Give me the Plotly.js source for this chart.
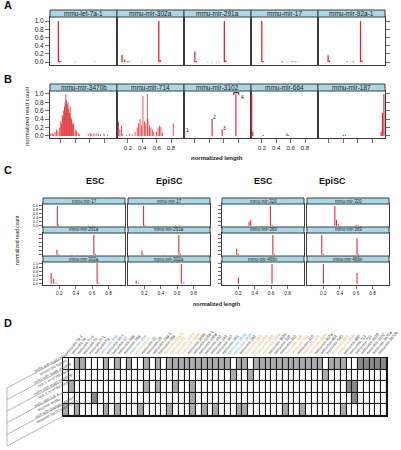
<!DOCTYPE html>
<html><head><meta charset="utf-8">
<script src="https://cdn.plot.ly/plotly-3.0.1.min.js"></script>
<style>html,body{margin:0;padding:0;background:#fff;}#chart{width:401px;height:450px;}</style>
</head><body><div id="chart"></div>
<script>
// ---------------- DATA ----------------
// Panel A
const panelA_names = ["mmu-let-7a-1","mmu-mir-302a","mmu-mir-291a","mmu-mir-17","mmu-mir-92a-1"];
const a_let7a1_len = [0.06,0.166,0.185,0.20,0.40,0.68];
const a_let7a1_cnt = [0.01,1.0,0.03,0.02,0.01,0.01];
const a_mir302a_len = [0.12,0.155,0.19,0.22,0.40,0.63,0.65];
const a_mir302a_cnt = [0.18,0.06,0.02,0.02,0.01,1.0,0.05];
const a_mir291a_len = [0.20,0.22,0.38,0.44,0.50,0.54,0.61,0.63];
const a_mir291a_cnt = [0.26,0.03,0.01,0.01,0.01,0.01,1.0,0.04];
const a_mir17_len = [0.20,0.22,0.48,0.55,0.62,0.66,0.69];
const a_mir17_cnt = [1.0,0.03,0.02,0.01,0.02,0.02,0.01];
const a_mir92a1_len = [0.19,0.21,0.45,0.50,0.54,0.64,0.66];
const a_mir92a1_cnt = [0.17,0.04,0.02,0.01,0.02,1.0,0.04];

// Panel B
const panelB_names = ["mmu-mir-3470b","mmu-mir-714","mmu-mir-3102","mmu-mir-664","mmu-mir-187"];
const b_mir3470b_len = [0.06,0.08,0.10,0.12,0.14,0.16,0.18,0.20,0.21,0.22,0.23,0.24,0.25,0.26,0.27,0.28,0.29,0.30,0.31,0.32,0.33,0.34,0.35,0.36,0.37,0.38,0.40,0.42,0.44,0.46,0.58,0.61,0.63,0.66,0.69,0.72,0.75,0.80,0.85];
const b_mir3470b_cnt = [0.05,0.07,0.04,0.10,0.15,0.12,0.20,0.35,0.30,0.50,0.45,0.60,0.70,0.80,1.00,0.85,0.75,0.80,0.65,0.55,0.70,0.45,0.40,0.30,0.25,0.30,0.15,0.12,0.08,0.04,0.05,0.07,0.04,0.06,0.07,0.05,0.04,0.06,0.03];
const b_mir714_len = [0.05,0.07,0.09,0.11,0.13,0.18,0.22,0.26,0.30,0.33,0.35,0.37,0.39,0.41,0.43,0.45,0.47,0.48,0.50,0.52,0.54,0.56,0.60,0.62,0.64,0.66,0.68,0.83];
const b_mir714_cnt = [0.22,0.35,0.15,0.25,0.05,0.03,0.05,0.04,0.10,0.20,0.30,0.40,0.25,0.95,0.35,0.30,1.00,0.40,0.25,0.20,0.15,0.10,0.10,0.20,0.25,0.22,0.08,0.30];
const b_mir3102_len = [0.06,0.44,0.58,0.77];
const b_mir3102_cnt = [0.07,0.40,0.15,1.0];
const b_mir3102_peakLabels = ["1","2","3","4"];
const b_mir3102_peakLen = [0.10,0.47,0.61,0.86];
const b_mir3102_peakCnt = [0.14,0.45,0.20,0.93];
const b_mir3102_bracketLen = [0.74,0.74,0.81,0.81];
const b_mir3102_bracketCnt = [0.98,1.03,1.03,0.98];
const b_mir664_len = [0.06,0.075,0.22,0.55,0.57];
const b_mir664_cnt = [1.0,0.10,0.02,0.06,0.02];
const b_mir187_len = [0.40,0.43,0.925,0.945,0.965];
const b_mir187_cnt = [0.03,0.02,0.10,0.55,1.0];

// Panel C
const c_rowsLeft = ["mmu-mir-17","mmu-mir-291a","mmu-mir-302a"];
const c_rowsRight = ["mmu-mir-320","mmu-mir-369","mmu-mir-466n"];
const c_conditions = ["ESC","EpiSC"];
const c_esc_mir17_len = [0.175,0.19,0.55,0.60,0.63];
const c_esc_mir17_cnt = [1.0,0.05,0.03,0.03,0.02];
const c_epi_mir17_len = [0.19,0.21,0.58,0.62,0.65];
const c_epi_mir17_cnt = [1.0,0.05,0.03,0.03,0.02];
const c_esc_mir291a_len = [0.17,0.19,0.35,0.42,0.50,0.62,0.64];
const c_esc_mir291a_cnt = [0.25,0.03,0.02,0.02,0.02,1.0,0.05];
const c_epi_mir291a_len = [0.17,0.19,0.45,0.62,0.64];
const c_epi_mir291a_cnt = [0.22,0.03,0.02,1.0,0.05];
const c_esc_mir302a_len = [0.10,0.13,0.16,0.66,0.68];
const c_esc_mir302a_cnt = [0.55,0.25,0.05,1.05,0.05];
const c_epi_mir302a_len = [0.10,0.13,0.45,0.65,0.68,0.77];
const c_epi_mir302a_cnt = [0.15,0.05,0.02,1.0,0.06,0.03];
const c_esc_mir320_len = [0.33,0.35,0.59,0.61];
const c_esc_mir320_cnt = [0.20,0.30,1.0,0.05];
const c_epi_mir320_len = [0.34,0.36,0.38,0.60,0.63];
const c_epi_mir320_cnt = [1.0,0.30,0.08,0.05,0.03];
const c_esc_mir369_len = [0.18,0.20,0.45,0.62,0.64];
const c_esc_mir369_cnt = [0.30,0.05,0.02,1.0,0.05];
const c_epi_mir369_len = [0.18,0.20,0.61,0.63];
const c_epi_mir369_cnt = [1.0,0.05,0.85,0.05];
const c_esc_mir466n_len = [0.05,0.20,0.37,0.61,0.80];
const c_esc_mir466n_cnt = [0.02,0.30,0.03,1.0,0.02];
const c_epi_mir466n_len = [0.20,0.42,0.61];
const c_epi_mir466n_cnt = [1.0,0.02,0.55];

// Panel D
const d_mirnas = ["mmu-let-7a-1","mmu-let-7b","mmu-let-7c-1","mmu-let-7d","mmu-let-7f-1","mmu-let-7g","mmu-mir-15a","mmu-mir-16-1","mmu-mir-17","mmu-mir-18a","mmu-mir-19a","mmu-mir-20a","mmu-mir-21","mmu-mir-22","mmu-mir-25","mmu-mir-26a-1","mmu-mir-29a","mmu-mir-92a-1","mmu-mir-93","mmu-mir-103-1","mmu-mir-106a","mmu-mir-106b","mmu-mir-125b-1","mmu-mir-130a","mmu-mir-142","mmu-mir-143","mmu-mir-187","mmu-mir-191","mmu-mir-291a","mmu-mir-291b","mmu-mir-292","mmu-mir-293","mmu-mir-294","mmu-mir-295","mmu-mir-302a","mmu-mir-302b","mmu-mir-320","mmu-mir-322","mmu-mir-369","mmu-mir-381","mmu-mir-410","mmu-mir-423","mmu-mir-466n","mmu-mir-467a","mmu-mir-484","mmu-mir-540","mmu-mir-664","mmu-mir-669c","mmu-mir-690","mmu-mir-714","mmu-mir-721","mmu-mir-1839","mmu-mir-3102","mmu-mir-3470a","mmu-mir-3470b","mmu-mir-5099"];
const d_labelClass = [0,0,0,0,0,0,1,0,0,0, 0,1,2,0,0,0,0,2,2,2, 2,0,0,0,0,0,0,0,1,1, 0,2,2,2,2,0,0,0,2,2, 0,2,2,0,0,0,2,2,0,0, 0,0,0,0,0,0];
const d_features = [
  "miRs with reads sited<br>across the hairpin",
  "miRs with reads residing<br>first 5' nt of the hairpin",
  "miRs with reads mapping<br>last 3' nt of the hairpin",
  "miRs with 3 or 4<br>discrete peaks",
  "miR with changing pattern<br>between EpiSCs and ESCs"
];
const d_row1 = [0,0,1,1,0,0,0,1,0,1, 0,1,0,0,1,0,1,0,1,1, 1,1,1,1,1,1,1,1,1,0, 1,1,0,1,1,1,1,1,1,1, 1,1,1,1,1,0,1,1,1,0, 0,2,2,2,2,2];
const d_row2 = [0,0,0,0,0,0,0,0,0,0, 0,0,0,0,0,0,0,0,0,0, 0,0,0,0,0,0,0,0,0,1, 0,0,1,0,0,0,0,0,0,0, 0,0,0,0,0,1,0,0,0,0, 0,0,0,0,0,0];
const d_row3 = [0,1,0,0,0,0,0,0,0,0, 0,0,0,0,1,0,1,0,0,1, 0,0,1,0,0,0,0,0,0,0, 0,0,0,0,0,0,0,0,0,0, 0,0,0,0,0,0,0,0,0,2, 2,0,0,0,0,0];
const d_row4 = [0,0,0,0,0,2,0,0,0,0, 0,0,0,0,0,0,0,0,0,0, 0,0,1,0,0,0,0,0,0,0, 0,0,0,0,0,0,0,0,0,0, 0,0,0,0,0,0,0,0,0,0, 2,0,0,0,0,0];
const d_row5 = [1,0,1,0,0,0,0,1,0,1, 0,0,0,1,0,0,0,0,1,0, 0,0,1,0,1,0,1,0,0,0, 1,1,0,0,0,0,0,0,1,0, 0,1,0,0,0,0,0,0,1,0, 0,0,0,0,0,0];

const yTickVals = [0,0.2,0.4,0.6,0.8,1.0];
const yTickText = ["0.0","0.2","0.4","0.6","0.8","1.0"];
const xTickVals = [0.2,0.4,0.6,0.8];
const xTickText = ["0.2","0.4","0.6","0.8"];

// ---------------- BUILD ----------------
const W = 401, H = 450;
const FONT = "Liberation Sans, Arial, Helvetica, sans-serif";
const RED = "#e2262b";
const traces = [], shapes = [], annotations = [];
const layout = {
  width: W, height: H, margin: {l:0,r:0,t:0,b:0},
  paper_bgcolor: "#fff", plot_bgcolor: "#fff", showlegend: false,
  font: {family: FONT, color: "#222"}, barmode: "overlay"
};
let axN = 0;
function fx(p){ return p / W; }
function fy(p){ return 1 - p / H; }

function addPanel(p) {
  axN++;
  const sfx = axN === 1 ? "" : String(axN);
  const xid = "x" + sfx, yid = "y" + sfx;
  layout["xaxis" + sfx] = {
    domain: [fx(p.x0), fx(p.x1)], anchor: yid, range: p.xrange,
    showgrid: false, zeroline: false, showline: true, mirror: true,
    linecolor: "#3c3c3c", linewidth: 1,
    ticks: p.xticks ? "outside" : "", ticklen: p.tl, tickwidth: 0.7, tickcolor: "#333",
    tickvals: xTickVals, ticktext: xTickText, showticklabels: !!p.xlabels,
    tickfont: {size: p.xfs, color: "#222"}, fixedrange: true
  };
  layout["yaxis" + sfx] = {
    domain: [fy(p.y1), fy(p.y0)], anchor: xid, range: p.yrange, side: p.yside || "left",
    showgrid: false, zeroline: false, showline: true, mirror: true,
    linecolor: "#3c3c3c", linewidth: 1,
    ticks: p.yticks ? "outside" : "", ticklen: p.tl, tickwidth: 0.7, tickcolor: "#333",
    tickvals: yTickVals, ticktext: yTickText, showticklabels: !!p.ylabels,
    tickfont: {size: p.yfs, color: "#222"}, fixedrange: true
  };
  traces.push({type: "bar", x: p.len, y: p.cnt, width: p.bw, xaxis: xid, yaxis: yid,
    marker: {color: RED, line: {width: 0}}, hoverinfo: "skip"});
  shapes.push({type: "rect", xref: "paper", yref: "paper",
    x0: fx(p.x0), x1: fx(p.x1), y0: fy(p.y0), y1: fy(p.ys),
    fillcolor: "#a8d8e6", line: {color: "#3c3c3c", width: 1}});
  annotations.push({xref: "paper", yref: "paper", x: fx((p.x0 + p.x1) / 2), y: fy((p.ys + p.y0) / 2),
    text: p.name, showarrow: false, xanchor: "center", yanchor: "middle",
    font: {size: p.sfs, color: "#222", family: FONT}});
  return {xid, yid};
}

// Panel A
const aX = [[50,117],[117,184],[184,251],[251,318],[318,385]];
const aLen = [a_let7a1_len, a_mir302a_len, a_mir291a_len, a_mir17_len, a_mir92a1_len];
const aCnt = [a_let7a1_cnt, a_mir302a_cnt, a_mir291a_cnt, a_mir17_cnt, a_mir92a1_cnt];
for (let i = 0; i < 5; i++) {
  addPanel({name: panelA_names[i], len: aLen[i], cnt: aCnt[i], x0: aX[i][0], x1: aX[i][1],
    ys: 10, y0: 17, y1: 65, xrange: [0.05, 0.98], yrange: [-0.07, 1.1], bw: 0.018,
    xticks: false, yticks: (i === 0 || i === 4), ylabels: i === 0, yside: i === 4 ? "right" : "left",
    tl: 4, xfs: 6, yfs: 6.5, sfs: 6.5});
}
// Panel B
const bLen = [b_mir3470b_len, b_mir714_len, b_mir3102_len, b_mir664_len, b_mir187_len];
const bCnt = [b_mir3470b_cnt, b_mir714_cnt, b_mir3102_cnt, b_mir664_cnt, b_mir187_cnt];
let b3102 = null;
for (let i = 0; i < 5; i++) {
  const r = addPanel({name: panelB_names[i], len: bLen[i], cnt: bCnt[i], x0: aX[i][0], x1: aX[i][1],
    ys: 84, y0: 91, y1: 138, xrange: [0.05, 0.98], yrange: [-0.05, 1.07], bw: i < 2 ? 0.011 : 0.016,
    xticks: true, xlabels: (i === 1 || i === 3), yticks: (i === 0 || i === 4), ylabels: i === 0,
    yside: i === 4 ? "right" : "left", tl: 4, xfs: 6, yfs: 6.5, sfs: 6.5});
  if (i === 2) b3102 = r;
}
traces.push({type: "scatter", mode: "lines", x: b_mir3102_bracketLen, y: b_mir3102_bracketCnt,
  xaxis: b3102.xid, yaxis: b3102.yid, line: {color: "#111", width: 1}, hoverinfo: "skip"});
for (let k = 0; k < b_mir3102_peakLabels.length; k++) {
  annotations.push({xref: b3102.xid, yref: b3102.yid, x: b_mir3102_peakLen[k], y: b_mir3102_peakCnt[k],
    text: b_mir3102_peakLabels[k], showarrow: false, font: {size: 5, color: "#111", family: FONT}});
}

// Panel C
const cLeftLen = [[c_esc_mir17_len, c_epi_mir17_len],[c_esc_mir291a_len, c_epi_mir291a_len],[c_esc_mir302a_len, c_epi_mir302a_len]];
const cLeftCnt = [[c_esc_mir17_cnt, c_epi_mir17_cnt],[c_esc_mir291a_cnt, c_epi_mir291a_cnt],[c_esc_mir302a_cnt, c_epi_mir302a_cnt]];
const cRightLen = [[c_esc_mir320_len, c_epi_mir320_len],[c_esc_mir369_len, c_epi_mir369_len],[c_esc_mir466n_len, c_epi_mir466n_len]];
const cRightCnt = [[c_esc_mir320_cnt, c_epi_mir320_cnt],[c_esc_mir369_cnt, c_epi_mir369_cnt],[c_esc_mir466n_cnt, c_epi_mir466n_cnt]];
const cRows = [[198,204,227],[227,233,256],[256,262,285]];
const cCols = [[43,125],[128,210],[222,304],[307,389]];
for (let blk = 0; blk < 2; blk++) {
  for (let r = 0; r < 3; r++) {
    for (let c = 0; c < 2; c++) {
      const col = cCols[blk * 2 + c];
      addPanel({name: blk === 0 ? c_rowsLeft[r] : c_rowsRight[r],
        len: blk === 0 ? cLeftLen[r][c] : cRightLen[r][c],
        cnt: blk === 0 ? cLeftCnt[r][c] : cRightCnt[r][c],
        x0: col[0], x1: col[1], ys: cRows[r][0], y0: cRows[r][1], y1: cRows[r][2],
        xrange: [0, 1], yrange: [-0.06, 1.1], bw: 0.013,
        xticks: r === 2, xlabels: r === 2, yticks: c === 0, ylabels: (blk === 0 && c === 0 && r !== 1),
        tl: 3, xfs: 4.8, yfs: 4, sfs: 4.5});
    }
  }
}
const cTitleX = [84, 169, 263, 348];
for (let k = 0; k < 4; k++) {
  annotations.push({xref: "paper", yref: "paper", x: fx(cTitleX[k]), y: fy(181), showarrow: false,
    text: "<b>" + c_conditions[k % 2] + "</b>", font: {size: 9, color: "#111", family: FONT}});
}

// Panel D heatmap
axN++;
const dS = String(axN);
const dX = "x" + dS, dY = "y" + dS;
const dTickText = d_mirnas.map((m, i) => {
  const col = d_labelClass[i] === 1 ? "#4aa6d6" : (d_labelClass[i] === 2 ? "#f0a640" : "#333");
  return '<span style="color:' + col + '">' + m + '</span>';
});
layout["xaxis" + dS] = {domain: [fx(63), fx(387)], anchor: dY, range: [-0.5, d_mirnas.length - 0.5],
  side: "top", tickvals: d_mirnas.map((m, i) => i), ticktext: dTickText, tickangle: -50,
  tickfont: {size: 4, family: FONT}, ticks: "", showgrid: false, zeroline: false,
  showline: true, mirror: true, linecolor: "#111", linewidth: 1.2, fixedrange: true};
layout["yaxis" + dS] = {domain: [fy(416), fy(358)], anchor: dX, range: [4.5, -0.5],
  showticklabels: false, ticks: "", showgrid: false, zeroline: false,
  showline: true, mirror: true, linecolor: "#111", linewidth: 1.2, fixedrange: true};
shapes.push({type: "rect", xref: dX, yref: dY, x0: -0.5, x1: d_mirnas.length - 0.5, y0: -0.5, y1: 4.5,
  fillcolor: "#1a1a1a", line: {width: 0}, layer: "below"});
traces.push({type: "heatmap", z: [d_row1, d_row2, d_row3, d_row4, d_row5],
  x: d_mirnas.map((m, i) => i), y: [0, 1, 2, 3, 4], xaxis: dX, yaxis: dY,
  zmin: 0, zmax: 2, colorscale: [[0, "#ffffff"], [0.5, "#ababab"], [1, "#8a8a8a"]],
  showscale: false, xgap: 1.1, ygap: 1.1, hoverinfo: "skip"});

// Row-label box (slanted)
const hTop = 358, rowH = 11.6, slantDY = 30, xR = 63, xL = 7;
for (let i = 0; i <= 5; i++) {
  shapes.push({type: "line", xref: "paper", yref: "paper",
    x0: fx(xR), y0: fy(hTop + rowH * i), x1: fx(xL), y1: fy(hTop + rowH * i + slantDY),
    line: {color: "#999", width: 0.7}});
}
shapes.push({type: "line", xref: "paper", yref: "paper", x0: fx(xL), x1: fx(xL),
  y0: fy(hTop + slantDY), y1: fy(hTop + rowH * 5 + slantDY), line: {color: "#999", width: 0.7}});
for (let i = 0; i < 5; i++) {
  annotations.push({xref: "paper", yref: "paper", x: fx(31), y: fy(hTop + rowH * (i + 0.5) + 16.5),
    text: d_features[i], showarrow: false, textangle: -28, align: "center",
    font: {size: 3.8, color: "#555", family: FONT}});
}

// Panel letters and axis titles
const letters = [["A", 5], ["B", 79], ["C", 170], ["D", 323]];
letters.forEach(l => annotations.push({xref: "paper", yref: "paper", x: fx(2), y: fy(l[1]),
  xanchor: "left", yanchor: "middle", showarrow: false, text: "<b>" + l[0] + "</b>",
  font: {size: 11, color: "#111", family: FONT}}));
annotations.push({xref: "paper", yref: "paper", x: fx(22), y: fy(84), textangle: -90, showarrow: false,
  text: "normalized read count", font: {size: 6, color: "#222", family: FONT}});
annotations.push({xref: "paper", yref: "paper", x: fx(217), y: fy(158), showarrow: false,
  text: "<b>normalized length</b>", font: {size: 6, color: "#222", family: FONT}});
annotations.push({xref: "paper", yref: "paper", x: fx(12), y: fy(240), textangle: -90, showarrow: false,
  text: "normalized read count", font: {size: 5, color: "#222", family: FONT}});
annotations.push({xref: "paper", yref: "paper", x: fx(217), y: fy(309), showarrow: false,
  text: "<b>normalized length</b>", font: {size: 5.5, color: "#222", family: FONT}});

layout.shapes = shapes;
layout.annotations = annotations;
Plotly.newPlot("chart", traces, layout, {staticPlot: true, displayModeBar: false});
</script></body></html>
